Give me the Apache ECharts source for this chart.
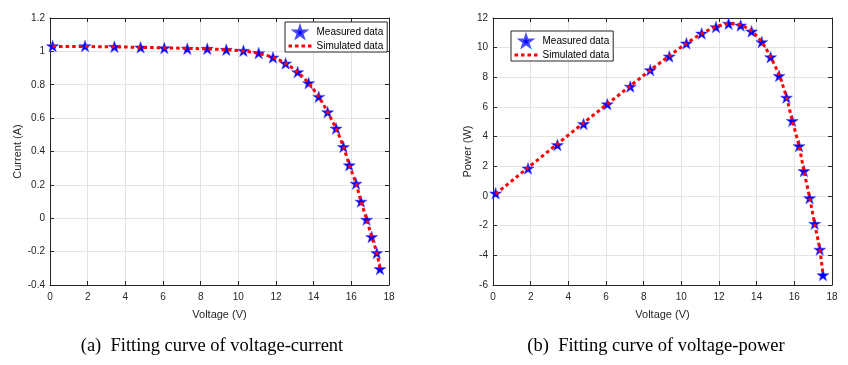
<!DOCTYPE html>
<html>
<head>
<meta charset="utf-8">
<script src="https://cdn.jsdelivr.net/npm/echarts@6/dist/echarts.min.js"></script>
<style>html,body{margin:0;padding:0;background:#fff;}#c{width:848px;height:365px;}</style>
</head>
<body>
<div id="c"></div>
<script>
// ---- data ----
const voltage = [0.14,1.86,3.42,4.81,6.07,7.29,8.35,9.36,10.27,11.08,11.84,12.51,13.15,13.73,14.27,14.74,15.19,15.58,15.89,16.25,16.51,16.81,17.08,17.35,17.52];
const currentMeasured = [1.032,1.032,1.028,1.024,1.020,1.016,1.016,1.010,1.004,0.990,0.964,0.928,0.876,0.810,0.728,0.636,0.538,0.428,0.318,0.208,0.100,-0.008,-0.112,-0.208,-0.304];
const currentSimulated = [1.030,1.029,1.027,1.024,1.021,1.018,1.015,1.010,1.002,0.988,0.964,0.928,0.876,0.810,0.728,0.636,0.538,0.428,0.320,0.208,0.102,-0.006,-0.110,-0.206,-0.302];
const powerMeasured = [0.18,1.86,3.44,4.86,6.19,7.38,8.49,9.41,10.29,10.96,11.39,11.62,11.50,11.10,10.38,9.36,8.10,6.64,5.07,3.37,1.69,-0.14,-1.87,-3.61,-5.33];
const powerSimulated = [0.14,1.91,3.51,4.93,6.20,7.42,8.48,9.45,10.29,10.95,11.41,11.61,11.52,11.12,10.39,9.37,8.17,6.67,5.08,3.38,1.68,-0.10,-1.88,-3.57,-5.29];
const currentTicks = {min:-0.4, max:1.2, interval:0.2};
const powerTicks = {min:-6, max:12, interval:2};
const voltageTicks = {min:0, max:18, interval:2};
const captions = ['(a)  Fitting curve of voltage-current', '(b)  Fitting curve of voltage-power'];
const seriesNames = ['Measured data', 'Simulated data'];

const STAR = 'path://M50,0 L61.2,34.5 L97.6,34.5 L68.2,55.9 L79.4,90.5 L50,69.1 L20.6,90.5 L31.8,55.9 L2.4,34.5 L38.8,34.5 Z';
const AX = '#262626';
const FONT = 'Liberation Sans';

function pairs(xs, ys){ return xs.map((x,i)=>[x, ys[i]]); }

function xAx(grid, top, name){
  return {
    type:'value', gridIndex:grid, position: top?'top':'bottom',
    min:voltageTicks.min, max:voltageTicks.max, interval:voltageTicks.interval,
    name: top? '' : name, nameLocation:'middle', nameGap:24,
    nameTextStyle:{fontFamily:FONT,fontSize:11,color:AX},
    axisLine:{show:true,onZero:false,lineStyle:{color:AX,width:1}},
    axisTick:{show:true,inside:true,length:4,lineStyle:{color:AX}},
    axisLabel:{show:!top,fontFamily:FONT,fontSize:10,color:AX,margin:7},
    splitLine:{show:!top,lineStyle:{color:'#e3e3e3',width:1}}
  };
}
function yAx(grid, right, ticks, name, dec, gap){
  return {
    type:'value', gridIndex:grid, position: right?'right':'left',
    min:ticks.min, max:ticks.max, interval:ticks.interval,
    name: right? '' : name, nameLocation:'middle', nameGap:gap,
    nameTextStyle:{fontFamily:FONT,fontSize:11,color:AX},
    axisLine:{show:true,onZero:false,lineStyle:{color:AX,width:1}},
    axisTick:{show:true,inside:true,length:4,lineStyle:{color:AX}},
    axisLabel:{show:!right,fontFamily:FONT,fontSize:10,color:AX,margin:5,
      formatter:v=>String(+v.toFixed(dec))},
    splitLine:{show:!right,lineStyle:{color:'#e3e3e3',width:1}}
  };
}
function scatter(xi, data){
  return {name:seriesNames[0], type:'scatter', xAxisIndex:xi, yAxisIndex:xi, data:data,
    symbol:STAR, symbolSize:[12,11.5], z:2,
    itemStyle:{color:'#0000ff', borderColor:'#4a4aff', borderWidth:0.6, opacity:1},
    emphasis:{disabled:true}};
}
function line(xi, data){
  return {name:seriesNames[1], type:'line', xAxisIndex:xi, yAxisIndex:xi, data:data,
    symbol:'none', showSymbol:false, smooth:0.25, z:3,
    lineStyle:{color:'#ff0000', width:3, type:[3.5,3]},
    itemStyle:{color:'#ff0000'},
    emphasis:{disabled:true}};
}
function legend(left, top){
  return {
    orient:'vertical', left:left, top:top,
    data:[
      {name:seriesNames[0], icon:STAR, itemStyle:{color:'#0000ff'}},
      {name:seriesNames[1], itemStyle:{opacity:0, color:'rgba(0,0,0,0)', borderWidth:0},
       lineStyle:{color:'#ff0000', width:3, type:[3.5,3]}}
    ],
    lineStyle:{color:'#ff0000', width:3, type:[3.5,3]},
    backgroundColor:'#fff', borderColor:AX, borderWidth:1, padding:[3,4,1,2],
    itemGap:2, itemWidth:23, itemHeight:12, symbolKeepAspect:true,
    textStyle:{fontFamily:FONT,fontSize:10,color:'#000'},
    selectedMode:false
  };
}

const chart = echarts.init(document.getElementById('c'), null, {renderer:'canvas'});
chart.setOption({
  animation:false,
  backgroundColor:'#fff',
  grid:[
    {left:50, top:18, width:339, height:267},
    {left:493, top:18, width:339, height:267}
  ],
  xAxis:[xAx(0,false,'Voltage (V)'), xAx(0,true,''), xAx(1,false,'Voltage (V)'), xAx(1,true,'')],
  yAxis:[yAx(0,false,currentTicks,'Current (A)',1,23), yAx(0,true,currentTicks,'',1,0),
         yAx(1,false,powerTicks,'Power (W)',0,16), yAx(1,true,powerTicks,'',0,0)],
  legend:[legend(285,22), legend(511,31)],
  title:[
    {text:captions[0], left:212, top:337, textAlign:'center', padding:0,
     textStyle:{fontFamily:'Liberation Serif',fontSize:18.5,fontWeight:'normal',color:'#000'}},
    {text:captions[1], left:656, top:337, textAlign:'center', padding:0,
     textStyle:{fontFamily:'Liberation Serif',fontSize:18.5,fontWeight:'normal',color:'#000'}}
  ],
  series:[
    scatter(0, pairs(voltage, currentMeasured)),
    line(0, pairs(voltage, currentSimulated)),
    scatter(2, pairs(voltage, powerMeasured)),
    line(2, pairs(voltage, powerSimulated))
  ]
});
</script>
</body>
</html>
